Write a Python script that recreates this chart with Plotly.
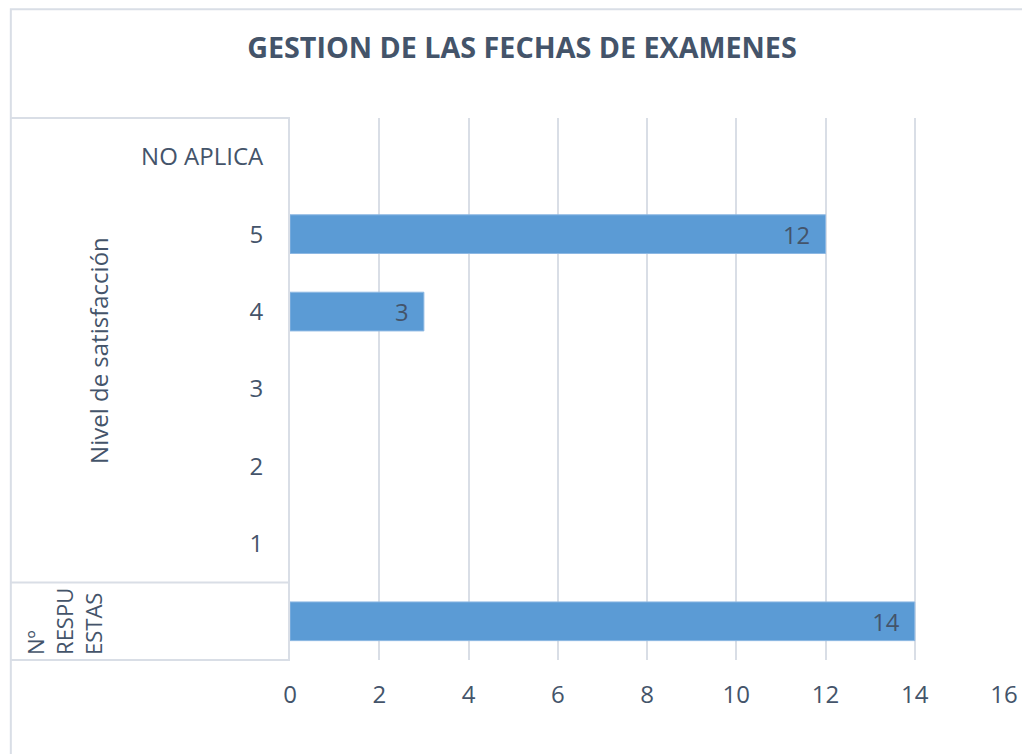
import plotly.graph_objects as go

# data
categories = ["Nº RESPUESTAS", "1", "2", "3", "4", "5", "NO APLICA"]
tick_labels = ["", "1", "2", "3", "4", "5", "NO APLICA"]
values = [14, None, None, None, 3, 12, None]
group_labels = ["Nº<br>RESPU<br>ESTAS", "Nivel de satisfacción"]
title = "GESTION DE LAS FECHAS DE EXAMENES"

TEXT = "#44546A"
GRID = "#D9DEE6"
FONT = "Open Sans"

fig = go.Figure()

fig.add_trace(
    go.Bar(
        x=values,
        y=categories,
        orientation="h",
        width=0.5,
        marker=dict(color="#5B9BD5", line=dict(color="#8DB8E3", width=1)),
        text=[f"{v}\u00a0\u00a0" if v is not None else "" for v in values],
        textposition="inside",
        insidetextanchor="end",
        textangle=0,
        textfont=dict(family=FONT, size=24, color=TEXT),
        hoverinfo="x+y",
    )
)

# chart border
fig.add_shape(type="rect", xref="paper", yref="paper", x0=-0.391, x1=1.2, y0=-0.4, y1=1.2005,
              line=dict(color=GRID, width=2), layer="below")

# multi-level category table lines on the left
for yref, yv in [("paper", 1.0), ("y", 0.5), ("paper", 0.0)]:
    fig.add_shape(type="line", xref="paper", yref=yref, x0=-0.391, x1=0, y0=yv, y1=yv,
                  line=dict(color=GRID, width=2))

fig.add_annotation(text=group_labels[1], xref="paper", yref="y", x=-0.268, y=3.5,
                   xanchor="center", yanchor="middle",
                   textangle=-90, showarrow=False, font=dict(family=FONT, size=24, color=TEXT))
fig.add_annotation(text=group_labels[0], xref="paper", yref="y", x=-0.317, y=0.0,
                   xanchor="center", yanchor="middle",
                   textangle=-90, showarrow=False, align="left",
                   font=dict(family=FONT, size=22, color=TEXT))

fig.update_layout(
    title=dict(text=f"<b>{title}</b>", x=514 / 1022, xanchor="center", y=1 - 40 / 746, yanchor="middle",
               font=dict(family=FONT, size=28.7, color=TEXT)),
    width=1022,
    height=746,
    margin=dict(l=282, r=21, t=110, b=94),
    paper_bgcolor="white",
    plot_bgcolor="white",
    showlegend=False,
    font=dict(family=FONT, color=TEXT),
)

fig.update_xaxes(
    range=[0, 16],
    dtick=2,
    showgrid=True,
    gridcolor=GRID,
    gridwidth=2,
    zeroline=False,
    showline=False,
    tickfont=dict(family=FONT, size=24, color=TEXT),
    ticklabelstandoff=18,
)

fig.update_yaxes(
    type="category",
    categoryorder="array",
    categoryarray=categories,
    tickvals=categories,
    ticktext=tick_labels,
    showgrid=False,
    showline=True,
    linecolor=GRID,
    linewidth=2,
    tickfont=dict(family=FONT, size=24, color=TEXT),
    ticklabelstandoff=20,
)

fig.write_html("out.html")
